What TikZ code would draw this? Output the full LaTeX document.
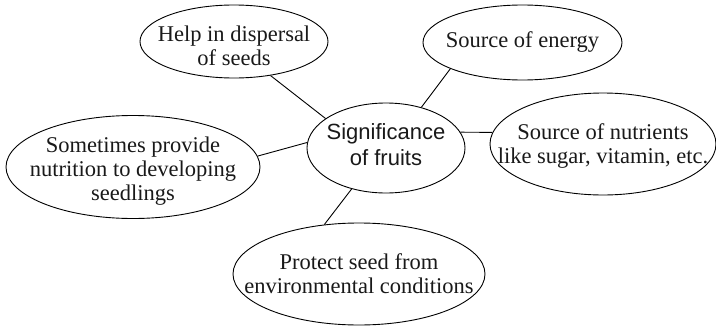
\documentclass[tikz,border=0pt]{standalone}
\usepackage{fontspec}
\setmainfont{Liberation Serif}
\newfontfamily\hubfont{Liberation Sans}
\usetikzlibrary{shapes,positioning}
\tikzset{topic/.style={ellipse, draw=black, line width=0.9pt, inner sep=0pt},
blurb/.style={align=center, inner sep=0pt, text=black!90, font=\fontsize{22.5}{24}\selectfont},
hubtext/.style={blurb, font=\hubfont\fontsize{22}{26}\selectfont},
link/.style={draw=black, line width=0.9pt}}
% #1 text options, #2 name, #3 centre, #4 width, #5 height, #6 text
\newcommand{\topic}[6][]{
\node (#2) [topic, minimum width=#4, minimum height=#5] at #3 {};
\node (#2txt) [blurb,#1] at (#2) {#6};
}

\begin{document}
\begin{tikzpicture}[x=1pt,y=-1pt]
    \useasboundingbox (0,0) rectangle (716,327);

    \topic[hubtext, yshift=3pt]{hub}{(386,148)}{158pt}{90pt}{Significance\\of fruits}

    \topic[yshift=-4pt]{help}{(234,41.5)}{188pt}{73pt}{Help in dispersal\\of seeds}
    \topic{energy}{(522.5,42.5)}{199pt}{75pt}{Source of energy}
    \topic[yshift=-2pt]{nutri}{(603,144)}{226pt}{102pt}{Source of nutrients\\like sugar, vitamin, etc.}
    \topic[yshift=-4pt]{nourish}{(133,167)}{254pt}{103pt}{Sometimes provide\\nutrition to developing\\seedlings}
    \topic{protect}{(359,274)}{252pt}{102pt}{Protect seed from\\environmental conditions}

    \draw [link] (help.317) -- (hub.154);
    \draw [link] (energy.200) -- (hub.49);
    \draw [link] (nutri.174) -- (hub.12);
    \draw [link] (nourish.5) -- (hub.176);
    \draw [link] (protect.125) -- (hub.230);

\end{tikzpicture}
\end{document}
